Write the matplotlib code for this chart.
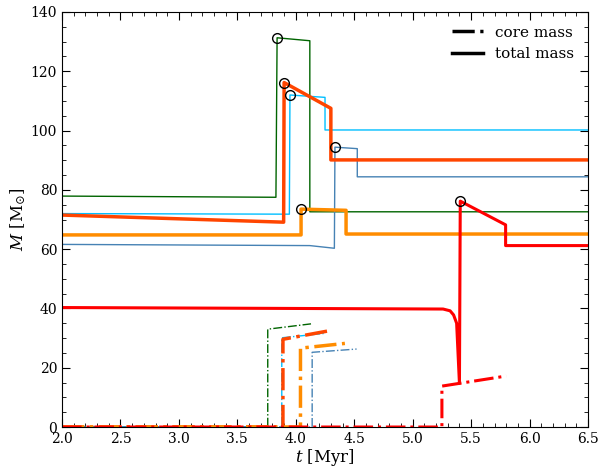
import matplotlib
matplotlib.use("Agg")
import matplotlib.pyplot as plt
from matplotlib.lines import Line2D
from matplotlib.ticker import MultipleLocator

plt.rcParams['font.family'] = 'DejaVu Serif'
plt.rcParams['mathtext.fontset'] = 'dejavuserif'

# total mass tracks (t in Myr, M in Msun)
green_t = [2.0, 3.83, 3.84, 4.12, 4.12, 6.5]
green_m = [77.9, 77.5, 131.3, 130.3, 72.6, 72.6]
cyan_t = [2.0, 3.945, 3.95, 4.25, 4.25, 6.5]
cyan_m = [72.0, 71.8, 112.0, 111.2, 100.2, 100.2]
blue_t = [2.0, 4.12, 4.33, 4.335, 4.526, 4.526, 6.5]
blue_m = [61.6, 61.2, 60.3, 94.4, 93.9, 84.4, 84.4]
ored_t = [2.0, 3.896, 3.90, 4.30, 4.30, 6.5]
ored_m = [71.5, 69.1, 116.2, 107.5, 90.1, 90.1]
orange_t = [2.0, 4.045, 4.045, 4.43, 4.43, 6.5]
orange_m = [64.8, 64.8, 73.5, 73.1, 65.1, 65.1]
red_t = [2.0, 5.26, 5.32, 5.35, 5.376, 5.40, 5.407, 5.795, 5.795, 6.5]
red_m = [40.3, 39.8, 39.2, 37.8, 35.0, 14.7, 76.2, 68.2, 61.2, 61.2]

# core mass tracks
green_ct = [2.0, 3.76, 3.76, 4.13]
green_cm = [0.0, 0.0, 33.0, 34.8]
cyan_ct = [2.0, 3.88, 3.88, 4.25]
cyan_cm = [0.0, 0.0, 30.1, 31.6]
blue_ct = [2.0, 4.14, 4.14, 4.52]
blue_cm = [0.0, 0.0, 25.2, 26.3]
ored_ct = [2.0, 3.89, 3.89, 4.29]
ored_cm = [0.0, 0.0, 29.6, 32.5]
orange_ct = [2.0, 4.04, 4.04, 4.42]
orange_cm = [0.0, 0.0, 26.6, 28.2]
red_ct = [2.0, 5.25, 5.25, 5.80]
red_cm = [0.0, 0.0, 13.8, 17.2]

# points marked with open circles
peak_t = [3.84, 3.90, 3.95, 4.335, 4.045, 5.407]
peak_m = [131.3, 116.2, 112.0, 94.4, 73.5, 76.2]

tracks = [
    (green_t, green_m, green_ct, green_cm, 'darkgreen', 1.0),
    (cyan_t, cyan_m, cyan_ct, cyan_cm, 'deepskyblue', 1.0),
    (blue_t, blue_m, blue_ct, blue_cm, 'steelblue', 1.0),
    (ored_t, ored_m, ored_ct, ored_cm, 'orangered', 2.5),
    (orange_t, orange_m, orange_ct, orange_cm, 'darkorange', 2.5),
    (red_t, red_m, red_ct, red_cm, 'red', 2.2),
]

fig = plt.figure(figsize=(6.01, 4.72), dpi=100)
ax = fig.add_axes([0.1032, 0.0953, 0.8752, 0.8793])

for t, m, ct, cm, col, lw in tracks:
    ax.plot(t, m, color=col, lw=lw)
    ax.plot(ct, cm, color=col, lw=lw, ls='-.')

ax.plot(peak_t, peak_m, 'o', ms=7, mfc='none', mec='black', mew=1.0)

ax.set_xlim(2.0, 6.5)
ax.set_ylim(0, 140)
ax.xaxis.set_major_locator(MultipleLocator(0.5))
ax.xaxis.set_minor_locator(MultipleLocator(0.1))
ax.yaxis.set_major_locator(MultipleLocator(20))
ax.yaxis.set_minor_locator(MultipleLocator(5))
ax.tick_params(which='both', direction='in', top=True, right=True, labelsize=10)
ax.tick_params(which='major', length=6)
ax.tick_params(which='minor', length=3)
ax.set_xlabel(r'$t$ [Myr]', fontsize=12, labelpad=1)
ax.set_ylabel(r'$M$ [M$_{\odot}$]', fontsize=12, labelpad=2)

handles = [Line2D([], [], color='black', lw=2.5, ls='-.'),
           Line2D([], [], color='black', lw=2.5)]
ax.legend(handles, ['core mass', 'total mass'], loc='upper right',
          frameon=False, fontsize=11, handlelength=2.0)

fig.savefig('out.png', dpi=100)
